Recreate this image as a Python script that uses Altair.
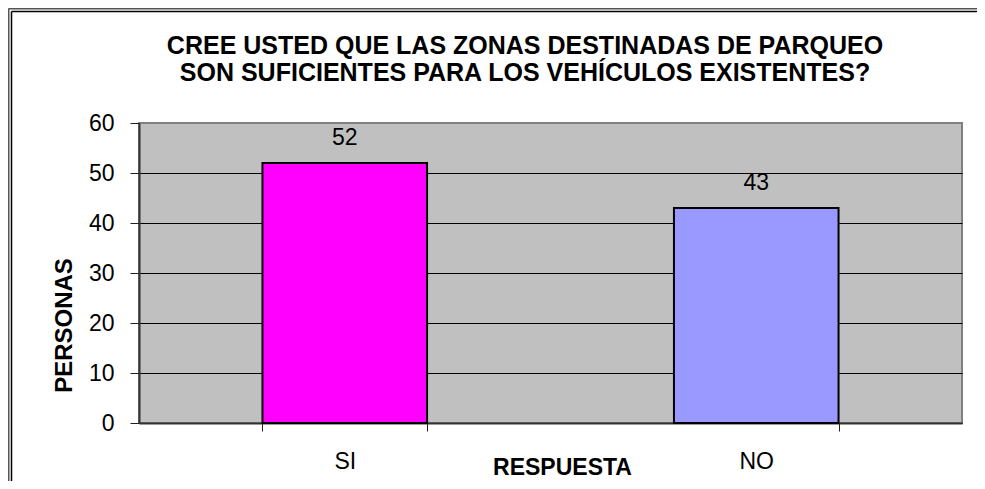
import altair as alt
import pandas as pd

categories = ["SI", "NO"]
values = [52, 43]
bar_colors = ["#FF00FF", "#9999FF"]
y_ticks = [0, 10, 20, 30, 40, 50, 60]
title_lines = [
    "CREE USTED QUE LAS ZONAS DESTINADAS DE PARQUEO",
    "SON SUFICIENTES PARA LOS VEHÍCULOS EXISTENTES?",
]
x_title = "RESPUESTA"
y_title = "PERSONAS"

FONT = "Liberation Sans"
PAD = {"left": 131, "top": 115, "right": 15, "bottom": 58}
W, H = 823, 300

df = pd.DataFrame({"respuesta": categories, "personas": values, "color": bar_colors})

x_enc = alt.X(
    "respuesta:N",
    sort=categories,
    scale=alt.Scale(paddingInner=0.6, paddingOuter=0.3),
    axis=alt.Axis(
        title=x_title,
        titleFont=FONT, titleFontSize=23, titleFontWeight="bold", titleColor="black",
        titleX=423, titleY=44, titleAlign="center", titleBaseline="middle",
        labelFont=FONT, labelFontSize=23, labelColor="black", labelAngle=0,
        labelBaseline="middle", labelPadding=30,
        tickBand="extent", tickSize=8, tickColor="#222222", tickWidth=1,
        domainColor="#333333", domainWidth=2, grid=False,
    ),
)
y_enc = alt.Y(
    "personas:Q",
    scale=alt.Scale(domain=[0, 60], nice=False),
    axis=alt.Axis(
        values=y_ticks,
        title=y_title,
        titleFont=FONT, titleFontSize=24, titleFontWeight="bold", titleColor="black",
        titleAngle=270, titleX=-75, titleY=202, titleAlign="center", titleBaseline="middle",
        labelFont=FONT, labelFontSize=23, labelColor="black", labelPadding=16,
        tickSize=9, tickColor="#222222", tickWidth=1,
        domainColor="#333333", domainWidth=2,
        grid=True,
        gridColor={"condition": {"test": "datum.value === 60", "value": "#808080"}, "value": "#000000"},
        gridWidth=1.2,
    ),
)

bars = alt.Chart(df).mark_bar(stroke="black", strokeWidth=2).encode(
    x=x_enc,
    y=y_enc,
    color=alt.Color("color:N", scale=None, legend=None),
)

labels = alt.Chart(df).mark_text(
    font=FONT, fontSize=23, color="black", baseline="middle", dy=-25
).encode(
    x=alt.X("respuesta:N", sort=categories),
    y=alt.Y("personas:Q"),
    text=alt.Text("personas:Q"),
)

# chart title, two lines (positions relative to plot area)
title_x = 525 - 8 - PAD["left"]
title_y1 = 46 - 8 - PAD["top"]
title_y2 = 73 - 8 - PAD["top"]
title_df = pd.DataFrame({"k": [0]})
title_marks = alt.layer(
    alt.Chart(title_df).mark_text(
        font=FONT, fontSize=25, fontWeight="bold", color="black",
        align="center", baseline="middle", text=title_lines[0],
    ).encode(x=alt.value(title_x), y=alt.value(title_y1)),
    alt.Chart(title_df).mark_text(
        font=FONT, fontSize=25, fontWeight="bold", color="black",
        align="center", baseline="middle", text=title_lines[1],
    ).encode(x=alt.value(title_x), y=alt.value(title_y2)),
)

frame_df = pd.DataFrame({"k": [0]})
x_out = 0.5 - PAD["left"]
y_out = 0.5 - PAD["top"]
x_in = 3.5 - PAD["left"]
y_in = 3.5 - PAD["top"]
x_end = W + PAD["right"]
y_end = H + PAD["bottom"]

frame = alt.layer(
    alt.Chart(frame_df).mark_rule(color="#555555", strokeWidth=2).encode(
        x=alt.value(x_out), y=alt.value(y_out), y2=alt.value(y_end)),
    alt.Chart(frame_df).mark_rule(color="#555555", strokeWidth=2).encode(
        x=alt.value(x_out), x2=alt.value(x_end), y=alt.value(y_out)),
    alt.Chart(frame_df).mark_rule(color="#000000", strokeWidth=1.5).encode(
        x=alt.value(x_in), y=alt.value(y_in), y2=alt.value(y_end)),
    alt.Chart(frame_df).mark_rule(color="#000000", strokeWidth=1.5).encode(
        x=alt.value(x_in), x2=alt.value(x_end), y=alt.value(y_in)),
)

chart = alt.layer(bars, labels, title_marks, frame).properties(
    width=W,
    height=H,
    autosize=alt.AutoSizeParams(type="none"),
    padding=PAD,
    background="white",
).configure_view(
    fill="#C0C0C0", stroke="#808080", strokeWidth=2
)

chart.save("out.html", embed_options={"renderer": "svg", "actions": False})
